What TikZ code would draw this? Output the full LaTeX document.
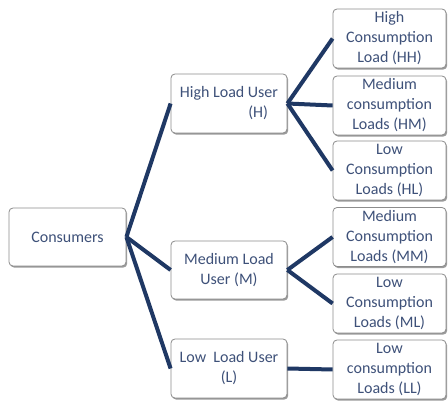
\documentclass[tikz,border=0pt]{standalone}
\usepackage{fontspec}
\setmainfont{Carlito}
\usetikzlibrary{shadows}
\definecolor{navy}{HTML}{1F3864}
\definecolor{slateblue}{HTML}{3E5179}
\definecolor{boxline}{HTML}{8C8C8C}

\begin{document}
\begin{tikzpicture}[x=1pt, y=-1pt,
  box/.style={draw=boxline, line width=0.8pt, fill=white, rounded corners=4pt,
    minimum width=116pt, minimum height=58pt, inner sep=0pt, align=center,
    text=slateblue, font=\fontsize{16}{20}\selectfont,
    drop shadow={shadow xshift=1.2pt, shadow yshift=-1.6pt, fill=black!55, opacity=0.7}},
  leaf/.style={box, minimum width=113pt, minimum height=59pt},
  branch/.style={navy, line width=4pt}]

% Background
\fill[white] (0,0) rectangle (448,401);

% Root and consumer groups
\node[box, minimum width=117pt] (cons) at (67.5,237) {Consumers};
\node[box, minimum height=59pt, align=right] (high) at (229,103.5) {High Load User\\(H)\hspace*{10pt}};
\node[box] (med) at (229,270) {Medium Load\\User (M)};
\node[box, minimum height=59pt] (low) at (229,368.5) {Low\ \ Load User\\(L)};

% Load classes
\node[leaf] (hh) at (389.5,38.5) {High\\Consumption\\Load (HH)};
\node[leaf] (hm) at (389.5,105.5) {Medium\\consumption\\Loads (HM)};
\node[leaf] (hl) at (389.5,170.5) {Low\\Consumption\\Loads (HL)};
\node[leaf] (mm) at (389.5,237) {Medium\\Consumption\\Loads (MM)};
\node[leaf] (ml) at (389.5,303.5) {Low\\Consumption\\Loads (ML)};
\node[leaf] (ll) at (389.5,369.5) {Low\\consumption\\Loads (LL)};

% Branches
\foreach \g in {high, med, low}
  \draw[branch] (cons.east) -- (\g.west);
\foreach \c in {hh, hm, hl}
  \draw[branch] (high.east) -- (\c.west);
\foreach \c in {mm, ml}
  \draw[branch] (med.east) -- (\c.west);
\draw[branch] (low.east) -- (ll.west);

\end{tikzpicture}
\end{document}
